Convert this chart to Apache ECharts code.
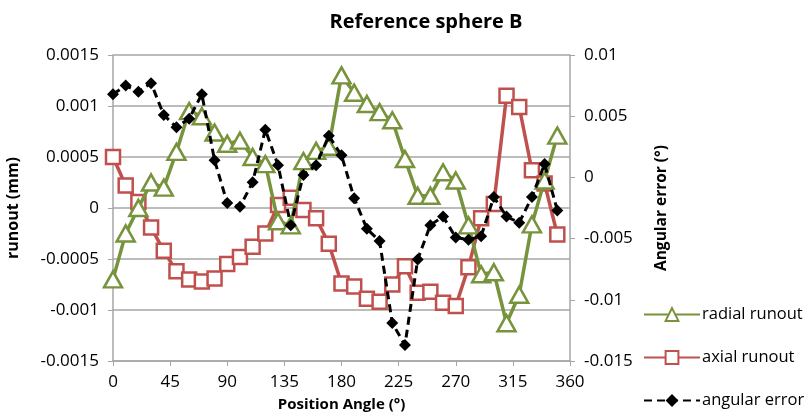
<!DOCTYPE html>
<html>
<head>
<meta charset="utf-8">
<script src="https://cdn.jsdelivr.net/npm/echarts@6/dist/echarts.min.js"></script>
<style>
  html, body { margin: 0; padding: 0; background: #fff; }
  #chart { width: 806px; height: 414px; }
</style>
</head>
<body>
<div id="chart"></div>
<script>
// ── Data ──────────────────────────────────────────────────────────────────────
const angles = [0, 10, 20, 30, 40, 50, 60, 70, 80, 90, 100, 110, 120, 130, 140, 150, 160, 170,
                180, 190, 200, 210, 220, 230, 240, 250, 260, 270, 280, 290, 300, 310, 320, 330, 340, 350];

const radialRunout = [-0.0007, -0.00025, 0.0, 0.00025, 0.0002, 0.00055, 0.00095, 0.0009, 0.00074, 0.00063,
                      0.00066, 0.0005, 0.00043, -0.00013, -0.00017, 0.00046, 0.00056, 0.0006,
                      0.0013, 0.00113, 0.00102, 0.00094, 0.00086, 0.00048, 0.00012, 0.00012, 0.00035, 0.00027,
                      -0.00017, -0.00065, -0.00063, -0.00113, -0.00085, -0.00016, 0.00027, 0.00071];

const axialRunout = [0.0005, 0.00022, 0.00006, -0.00019, -0.00042, -0.00062, -0.0007, -0.00072, -0.00069, -0.00055,
                     -0.00048, -0.00038, -0.00025, 0.00003, 0.0001, -0.00002, -0.0001, -0.00035,
                     -0.00074, -0.00077, -0.00089, -0.00092, -0.00075, -0.00057, -0.00083, -0.00082, -0.00093, -0.00096,
                     -0.00058, -0.0001, 0.00004, 0.0011, 0.00099, 0.00037, 0.00024, -0.00026];

const angularError = [0.0068, 0.0075, 0.007, 0.0077, 0.0051, 0.0041, 0.0048, 0.0068, 0.0014, -0.0021,
                      -0.0024, -0.0004, 0.0039, 0.001, -0.0039, 0.0002, 0.001, 0.0034,
                      0.0018, -0.0017, -0.0042, -0.0052, -0.0119, -0.0137, -0.0067, -0.0039, -0.0032, -0.0049,
                      -0.0051, -0.0048, -0.0016, -0.0032, -0.0037, -0.0016, 0.0011, -0.0027];

const seriesNames = ['radial runout', 'axial runout', 'angular error'];

// ── Chart ─────────────────────────────────────────────────────────────────────
const FONT = '"Open Sans", Lato, sans-serif';
const GREEN = '#77933C';
const RED = '#C0504D';
const GRID_GRAY = '#A6A6A6';

const pairs = (ys) => angles.map((a, i) => [a, ys[i]]);
const fmt = (v) => String(+v.toFixed(5));

const chart = echarts.init(document.getElementById('chart'), null, { renderer: 'canvas' });

chart.setOption({
  animation: false,
  backgroundColor: '#fff',
  textStyle: { fontFamily: FONT },
  title: {
    text: 'Reference sphere B',
    left: 421,
    top: 7,
    textAlign: 'center',
    textStyle: { fontFamily: FONT, fontSize: 20, fontWeight: 'bold', color: '#000' },
  },
  // fixed plot box; v6 would otherwise shrink it to keep labels inside
  grid: { left: 113, right: 236, top: 55, bottom: 53, outerBoundsMode: 'none' },
  legend: {
    orient: 'vertical',
    left: 638,
    top: 301,
    itemWidth: 56,
    itemHeight: 16,
    itemGap: 26,
    textStyle: { fontFamily: FONT, fontSize: 16.5, color: '#000', padding: [0, 0, 0, -3] },
    data: seriesNames,
  },
  xAxis: {
    type: 'value',
    min: 0,
    max: 360,
    interval: 45,
    name: 'Position Angle (°)',
    nameLocation: 'middle',
    nameGap: 36,
    nameTextStyle: { fontFamily: FONT, fontSize: 15, fontWeight: 'bold', color: '#000' },
    axisLine: { onZero: false, lineStyle: { color: GRID_GRAY, width: 1.5 } },
    axisTick: { show: true, length: 5, lineStyle: { color: GRID_GRAY } },
    axisLabel: { fontFamily: FONT, fontSize: 17, color: '#000', margin: 13 },
    splitLine: { show: false },
  },
  yAxis: [
    {
      type: 'value',
      min: -0.0015,
      max: 0.0015,
      interval: 0.0005,
      name: 'runout (mm)',
      nameLocation: 'middle',
      nameGap: 92,
      nameRotate: 90,
      nameTextStyle: { fontFamily: FONT, fontSize: 16, fontWeight: 'bold', color: '#000' },
      axisLine: { show: true, lineStyle: { color: GRID_GRAY, width: 1.5 } },
      axisTick: { show: true, length: 5, lineStyle: { color: GRID_GRAY } },
      axisLabel: { fontFamily: FONT, fontSize: 17, color: '#000', margin: 14, formatter: fmt },
      splitLine: { show: true, lineStyle: { color: GRID_GRAY, width: 1.5 } },
    },
    {
      type: 'value',
      position: 'right',
      min: -0.015,
      max: 0.01,
      interval: 0.005,
      name: 'Angular error (°)',
      nameLocation: 'middle',
      nameGap: 84,
      nameRotate: 90,
      nameTextStyle: { fontFamily: FONT, fontSize: 15.5, fontWeight: 'bold', color: '#000' },
      axisLine: { show: true, lineStyle: { color: GRID_GRAY, width: 1.5 } },
      axisTick: { show: true, length: 5, lineStyle: { color: GRID_GRAY } },
      axisLabel: { fontFamily: FONT, fontSize: 17, color: '#000', margin: 14, formatter: fmt },
      splitLine: { show: false },
    },
  ],
  series: [
    {
      name: seriesNames[0],
      type: 'line',
      yAxisIndex: 0,
      data: pairs(radialRunout),
      symbol: 'triangle',
      symbolSize: [18, 16],
      lineStyle: { color: GREEN, width: 3.5 },
      itemStyle: { color: '#fff', borderColor: GREEN, borderWidth: 2.5 },
      z: 3,
    },
    {
      name: seriesNames[1],
      type: 'line',
      yAxisIndex: 0,
      data: pairs(axialRunout),
      symbol: 'rect',
      symbolSize: 14,
      lineStyle: { color: RED, width: 3.5 },
      itemStyle: { color: '#fff', borderColor: RED, borderWidth: 2.5 },
      z: 2,
    },
    {
      name: seriesNames[2],
      type: 'line',
      yAxisIndex: 1,
      data: pairs(angularError),
      symbol: 'diamond',
      symbolSize: 12,
      lineStyle: { color: '#000', width: 3, type: [8, 5] },
      itemStyle: { color: '#000' },
      z: 4,
    },
  ],
});
</script>
</body>
</html>
